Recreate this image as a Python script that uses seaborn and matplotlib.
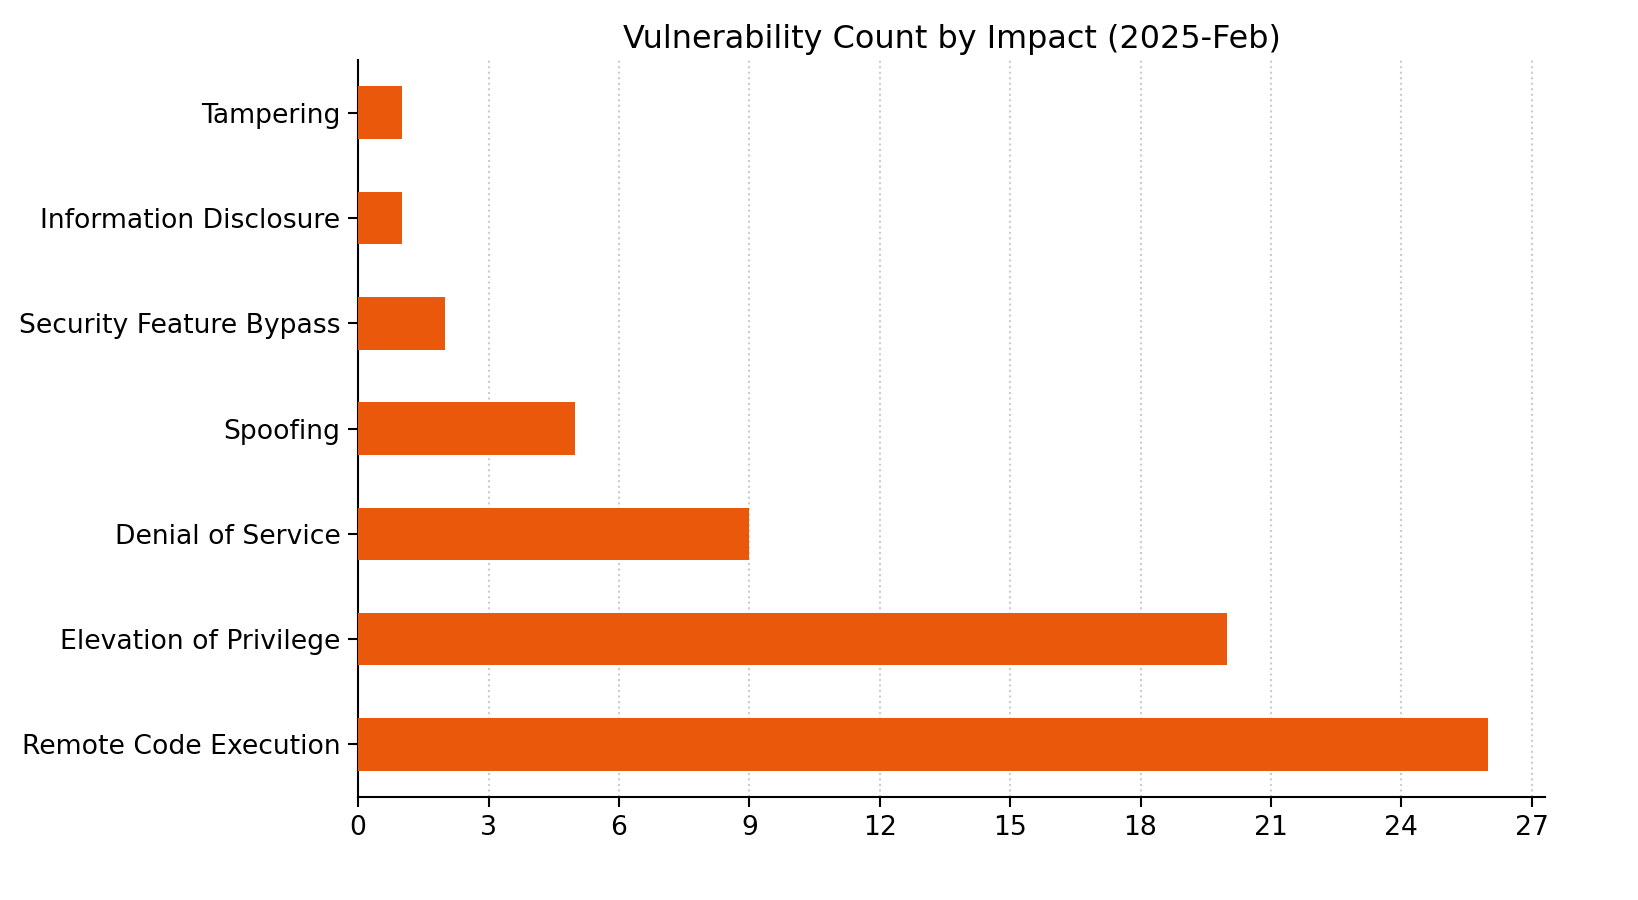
import matplotlib
matplotlib.use("Agg")
import matplotlib.pyplot as plt
import seaborn as sns
import pandas as pd
from matplotlib.ticker import MultipleLocator

# Dados
categorias = ["Tampering", "Information Disclosure", "Security Feature Bypass",
              "Spoofing", "Denial of Service", "Elevation of Privilege",
              "Remote Code Execution"]
contagens = [1, 1, 2, 5, 9, 20, 26]

df = pd.DataFrame({"impacto": categorias, "quantidade": contagens})

sns.set_style("white")
plt.rcParams['font.family'] = ['DejaVu Sans']
plt.rcParams['text.color'] = 'black'
plt.rcParams['xtick.color'] = 'black'
plt.rcParams['ytick.color'] = 'black'
plt.rcParams['axes.labelcolor'] = 'black'

fig, ax = plt.subplots(figsize=(1639 / 150, 900 / 150), dpi=150)
fig.subplots_adjust(left=0.2185, right=0.9425, bottom=0.1144, top=0.9333)

sns.barplot(data=df, x="quantidade", y="impacto", order=categorias,
            color="#EA580C", saturation=1, width=0.5, linewidth=0,
            ax=ax, zorder=3)

ax.set_xlim(0, max(contagens) * 1.05)
ax.set_ylim(len(categorias) - 0.5, -0.5)
ax.xaxis.set_major_locator(MultipleLocator(3))
ax.grid(axis="x", linestyle=":", color="#cccccc", linewidth=1, zorder=0)
ax.set_axisbelow(True)

ax.set_title("Vulnerability Count by Impact (2025-Feb)", fontsize=15.3, color="black")
ax.set_xlabel("")
ax.set_ylabel("")
ax.tick_params(axis="both", labelsize=12.8, length=5, width=1, color="black",
               labelcolor="black", bottom=True, left=True)
for lado in ["top", "right"]:
    ax.spines[lado].set_visible(False)
for lado in ["left", "bottom"]:
    ax.spines[lado].set_color("black")
    ax.spines[lado].set_linewidth(1)

plt.savefig("out.png", dpi=150)
plt.close()
